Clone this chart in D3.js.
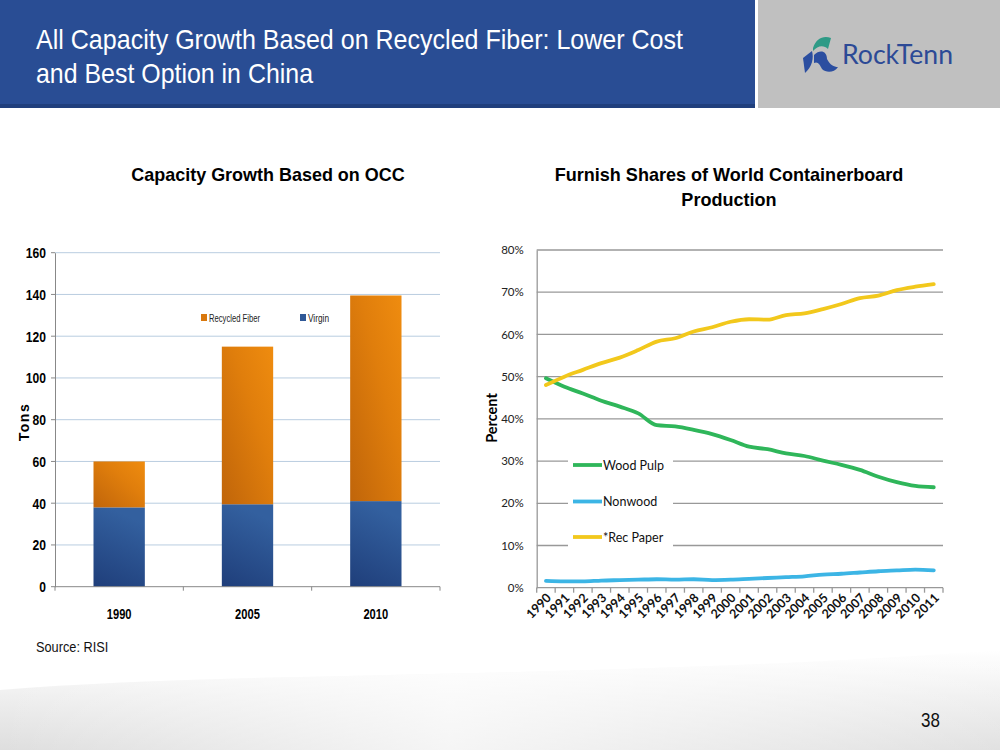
<!DOCTYPE html>
<html>
<head>
<meta charset="utf-8">
<script src="https://cdn.jsdelivr.net/npm/d3@7"></script>
<style>
  body { margin: 0; background: #fff; }
  svg { display: block; }
  .narrow { font-family: "Liberation Sans", Arial, sans-serif; }
  .cal { font-family: Lato, "Open Sans", "Noto Sans", sans-serif; }
</style>
</head>
<body>
<svg id="chart" width="1000" height="750"></svg>
<script>
// ---------- Data ----------
const barYears = ["1990", "2005", "2010"];
const virginTons = [38, 39.5, 41];
const recycledTons = [22, 75.5, 98.5];
const barTicks = [0, 20, 40, 60, 80, 100, 120, 140, 160];

const lineYears = ["1990","1991","1992","1993","1994","1995","1996","1997","1998","1999","2000",
                   "2001","2002","2003","2004","2005","2006","2007","2008","2009","2010","2011"];
const woodPulp = [49.6, 47.6, 46.0, 44.3, 42.9, 41.3, 38.5, 38.2, 37.4, 36.4, 35.0,
                  33.4, 32.8, 31.8, 31.2, 30.1, 29.1, 27.9, 26.3, 25.0, 24.1, 23.8];
const nonwood  = [1.6, 1.5, 1.5, 1.7, 1.8, 1.9, 2.0, 1.9, 2.0, 1.8, 1.9,
                  2.1, 2.3, 2.5, 2.7, 3.1, 3.3, 3.6, 3.9, 4.1, 4.3, 4.1];
const recPaper = [48.0, 50.0, 51.6, 53.2, 54.5, 56.3, 58.3, 59.1, 60.7, 61.7, 63.0,
                  63.6, 63.5, 64.6, 65.0, 66.0, 67.2, 68.6, 69.2, 70.5, 71.3, 71.9];
const pctTicks = [0, 10, 20, 30, 40, 50, 60, 70, 80];
const lineSeries = [
  { name: "Wood Pulp", values: woodPulp, color: "#2fb65a" },
  { name: "Nonwood", values: nonwood, color: "#3cb5e5" },
  { name: "*Rec Paper", values: recPaper, color: "#f2c81c" }
];

const svg = d3.select("#chart");
const defs = svg.append("defs");

// squeeze text horizontally (narrow font emulation)
function squeeze(sel, factor) {
  sel.each(function () {
    const len = this.getComputedTextLength();
    d3.select(this).attr("textLength", (len * factor).toFixed(1)).attr("lengthAdjust", "spacingAndGlyphs");
  });
}
function fitTo(sel, width) {
  sel.attr("textLength", width).attr("lengthAdjust", "spacingAndGlyphs");
}

// ---------- Background swirl ----------
const bg = defs.append("linearGradient").attr("id", "bgSwirl").attr("x1", 0).attr("y1", 0).attr("x2", 0).attr("y2", 1);
bg.append("stop").attr("offset", 0).attr("stop-color", "#ffffff");
bg.append("stop").attr("offset", 0.55).attr("stop-color", "#ececec");
bg.append("stop").attr("offset", 1).attr("stop-color", "#dedede");
const bgH = defs.append("linearGradient").attr("id", "bgFade").attr("x1", 0).attr("y1", 0).attr("x2", 1).attr("y2", 0);
bgH.append("stop").attr("offset", 0).attr("stop-color", "#fff").attr("stop-opacity", 0);
bgH.append("stop").attr("offset", 0.45).attr("stop-color", "#fff").attr("stop-opacity", 0.7);
bgH.append("stop").attr("offset", 1).attr("stop-color", "#fff").attr("stop-opacity", 0.1);
svg.append("path").attr("d", "M0,690 C250,670 600,680 1000,650 L1000,750 L0,750 Z").attr("fill", "url(#bgSwirl)");
svg.append("path").attr("d", "M0,690 C250,670 600,680 1000,650 L1000,750 L0,750 Z").attr("fill", "url(#bgFade)");

// ---------- Header ----------
svg.append("rect").attr("x", 0).attr("y", 0).attr("width", 755).attr("height", 108).attr("fill", "#294d94");
svg.append("rect").attr("x", 0).attr("y", 104).attr("width", 755).attr("height", 4).attr("fill", "#203f7c");
svg.append("rect").attr("x", 758).attr("y", 0).attr("width", 242).attr("height", 108).attr("fill", "#c0c0c0");

const hdr = svg.append("text").attr("class", "narrow").attr("fill", "#fff").attr("font-size", 28);
fitTo(hdr.append("tspan").attr("x", 36).attr("y", 49).text("All Capacity Growth Based on Recycled Fiber: Lower Cost"), 647);
fitTo(hdr.append("tspan").attr("x", 36).attr("y", 83).text("and Best Option in China"), 277);

// logo
const logo = svg.append("g").attr("transform", "translate(800,32)");
logo.append("path").attr("d", "M13,16 C16,6 24,3 31,6 L28,17 C24,13 18,13 13,19 Z").attr("fill", "#2e9a86");
logo.append("path").attr("d", "M3,26 L12,19 C14,26 12,35 5,41 Z").attr("fill", "#2b4ea0");
logo.append("path").attr("d", "M14,23 C20,17 27,19 27,27 C30,33 34,35 38,35 C34,41 26,41 22,37 C20,33 18,29 14,31 Z").attr("fill", "#2b4ea0");
fitTo(svg.append("text").attr("x", 842).attr("y", 64).attr("fill", "#2c4a96")
  .attr("font-family", "Lato, 'Open Sans', sans-serif").attr("font-size", 27).text("RockTenn"), 111);

// ---------- Left chart: stacked bars ----------
const L = { left: 55, right: 440, top: 252.7, bottom: 586.7 };
const xB = d3.scaleBand().domain(barYears).range([L.left, L.right]).paddingInner(0.6).paddingOuter(0.3);
const yB = d3.scaleLinear().domain([0, 160]).range([L.bottom, L.top]);

squeeze(svg.append("text").attr("class", "narrow").attr("x", 268).attr("y", 181).attr("text-anchor", "middle")
  .attr("font-size", 19).attr("font-weight", "bold").text("Capacity Growth Based on OCC"), 0.945);

const gl = svg.append("g");
gl.selectAll("line.grid").data(barTicks.slice(1)).join("line")
  .attr("x1", L.left).attr("x2", L.right).attr("y1", d => yB(d)).attr("y2", d => yB(d))
  .attr("stroke", "#b9cde0").attr("stroke-width", 1);

const gV = defs.append("linearGradient").attr("id", "gVirgin").attr("x1", 0).attr("y1", 1).attr("x2", 0.3).attr("y2", 0);
gV.append("stop").attr("offset", 0).attr("stop-color", "#1f3e7a");
gV.append("stop").attr("offset", 1).attr("stop-color", "#33609f");
const gR = defs.append("linearGradient").attr("id", "gRecycled").attr("x1", 0).attr("y1", 1).attr("x2", 1).attr("y2", 0);
gR.append("stop").attr("offset", 0).attr("stop-color", "#c0650a");
gR.append("stop").attr("offset", 0.6).attr("stop-color", "#e07e0c");
gR.append("stop").attr("offset", 1).attr("stop-color", "#ef8c0f");

const stackData = barYears.map((y, i) => ({ year: y, Virgin: virginTons[i], Recycled: recycledTons[i] }));
const stacked = d3.stack().keys(["Virgin", "Recycled"])(stackData);
const fills = { Virgin: "url(#gVirgin)", Recycled: "url(#gRecycled)" };
stacked.forEach(layer => {
  gl.selectAll(null).data(layer).join("rect")
    .attr("x", d => xB(d.data.year)).attr("width", xB.bandwidth())
    .attr("y", d => yB(d[1])).attr("height", d => yB(d[0]) - yB(d[1]))
    .attr("fill", fills[layer.key]);
});

// axes
const yAxisL = d3.axisLeft(yB).tickValues(barTicks).tickSize(0).tickPadding(9);
const gyl = gl.append("g").attr("transform", `translate(${L.left},0)`).call(yAxisL);
gyl.select(".domain").attr("stroke", "#888");
gyl.selectAll("text").attr("class", "narrow").attr("font-size", 15.5).attr("font-weight", "bold").attr("fill", "#000");
squeeze(gyl.selectAll("text"), 0.78);
gyl.append("g").selectAll("line").data(barTicks).join("line")
  .attr("x1", -4).attr("x2", 0).attr("y1", d => yB(d)).attr("y2", d => yB(d)).attr("stroke", "#888");

const gxl = gl.append("g").attr("transform", `translate(0,${L.bottom})`);
gxl.append("line").attr("x1", L.left).attr("x2", L.right).attr("stroke", "#888");
const bandEdges = [L.left, ...barYears.slice(1).map(y => xB(y) - (xB.step() - xB.bandwidth()) / 2), L.right];
gxl.selectAll("line.t").data(bandEdges).join("line").attr("class", "t")
  .attr("x1", d => d).attr("x2", d => d).attr("y1", 0).attr("y2", 4).attr("stroke", "#888");
squeeze(gxl.selectAll("text").data(barYears).join("text").attr("class", "narrow")
  .attr("x", d => xB(d) + xB.bandwidth() / 2).attr("y", 32).attr("text-anchor", "middle")
  .attr("font-size", 15.5).attr("font-weight", "bold").text(d => d), 0.72);

svg.append("text").attr("transform", "translate(29,422) rotate(-90)").attr("text-anchor", "middle")
  .attr("font-family", "Liberation Sans, Arial, sans-serif").attr("font-size", 14).attr("font-weight", "bold")
  .attr("letter-spacing", 1.5).text("Tons");

// legend left
const legL = [{ name: "Recycled Fiber", color: "#d9780d", x: 201, w: 51 }, { name: "Virgin", color: "#2f5897", x: 300, w: 21 }];
const lgl = svg.append("g");
lgl.selectAll("rect").data(legL).join("rect").attr("x", d => d.x).attr("y", 314).attr("width", 6).attr("height", 7).attr("fill", d => d.color);
lgl.selectAll("text").data(legL).join("text").attr("class", "narrow").attr("x", d => d.x + 8).attr("y", 322)
  .attr("font-size", 11.5).attr("fill", "#222").text(d => d.name)
  .attr("textLength", d => d.w).attr("lengthAdjust", "spacingAndGlyphs");

// ---------- Right chart: lines ----------
const R = { left: 536.7, right: 943, top: 250, bottom: 587.7 };
const xL = d3.scaleBand().domain(lineYears).range([R.left, R.right]);
const yL = d3.scaleLinear().domain([0, 80]).range([R.bottom, R.top]);

const tr = svg.append("text").attr("class", "narrow").attr("text-anchor", "middle")
  .attr("font-size", 19).attr("font-weight", "bold");
squeeze(tr.append("tspan").attr("x", 729).attr("y", 181).text("Furnish Shares of World Containerboard"), 0.95);
squeeze(tr.append("tspan").attr("x", 729).attr("y", 206).text("Production"), 0.95);

const gr = svg.append("g");
gr.selectAll("line.grid").data(pctTicks.slice(1)).join("line")
  .attr("x1", R.left).attr("x2", R.right).attr("y1", d => yL(d)).attr("y2", d => yL(d))
  .attr("stroke", "#999").attr("stroke-width", 1.3);

// legend background covering gridlines
gr.append("rect").attr("x", 568).attr("y", 450).attr("width", 105).attr("height", 100).attr("fill", "#fff");

const yAxisR = d3.axisLeft(yL).tickValues(pctTicks).tickSize(0).tickPadding(13).tickFormat(d => d + "%");
const gyr = gr.append("g").attr("transform", `translate(${R.left},0)`).call(yAxisR);
gyr.select(".domain").attr("stroke", "#999").attr("stroke-width", 1.3);
gyr.selectAll("text").attr("class", "cal").attr("font-size", 11.5).attr("fill", "#222");

const gxr = gr.append("g").attr("transform", `translate(0,${R.bottom})`);
gxr.append("line").attr("x1", R.left).attr("x2", R.right).attr("stroke", "#999").attr("stroke-width", 1.3);
const edgesR = lineYears.map(y => xL(y)).concat([R.right]);
gxr.selectAll("line.t").data(edgesR).join("line").attr("class", "t")
  .attr("x1", d => d).attr("x2", d => d).attr("y1", 0).attr("y2", 5).attr("stroke", "#999").attr("stroke-width", 1.3);
gxr.selectAll("text").data(lineYears).join("text").attr("class", "cal")
  .attr("transform", d => `translate(${xL(d) + xL.bandwidth() / 2 + 6},${11}) rotate(-45)`)
  .attr("text-anchor", "end").attr("font-size", 12.5).attr("font-weight", "bold").attr("fill", "#111").text(d => d);

const lineGen = d3.line().x((d, i) => xL(lineYears[i]) + xL.bandwidth() / 2).y(d => yL(d)).curve(d3.curveMonotoneX);
gr.selectAll("path.series").data(lineSeries).join("path").attr("class", "series")
  .attr("d", d => lineGen(d.values)).attr("fill", "none").attr("stroke", d => d.color)
  .attr("stroke-width", 3.8).attr("stroke-linejoin", "round").attr("stroke-linecap", "round");

// legend right
const legY = [465, 501.5, 537];
const lgr = gr.append("g");
lgr.selectAll("line").data(lineSeries).join("line")
  .attr("x1", 573).attr("x2", 602).attr("y1", (d, i) => legY[i]).attr("y2", (d, i) => legY[i])
  .attr("stroke", d => d.color).attr("stroke-width", 3.8);
lgr.selectAll("text").data(lineSeries).join("text").attr("class", "cal")
  .attr("x", 603).attr("y", (d, i) => legY[i] + 4.5).attr("font-size", 12.5).attr("fill", "#111").text(d => d.name);

svg.append("text").attr("transform", "translate(497,418) rotate(-90)").attr("text-anchor", "middle")
  .attr("class", "cal").attr("font-size", 14.5).attr("font-weight", "bold").text("Percent");

// ---------- Footer ----------
squeeze(svg.append("text").attr("class", "narrow").attr("x", 36).attr("y", 652).attr("font-size", 15).attr("fill", "#111").text("Source: RISI"), 0.85);
squeeze(svg.append("text").attr("class", "narrow").attr("x", 940).attr("y", 727).attr("text-anchor", "end").attr("font-size", 20).attr("fill", "#111").text("38"), 0.85);
</script>
</body>
</html>
